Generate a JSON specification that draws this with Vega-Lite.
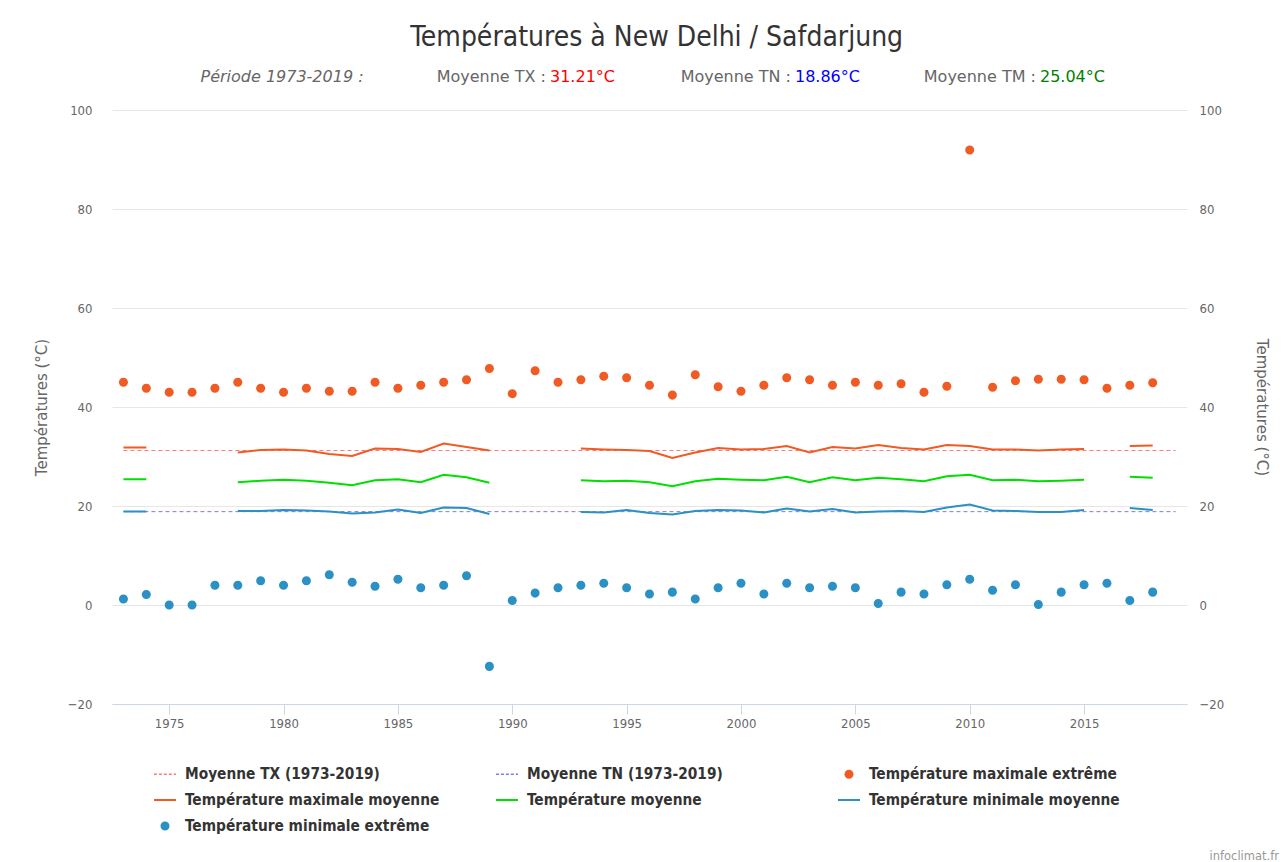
{
  "$schema": "https://vega.github.io/schema/vega-lite/v6.json",
  "background": "white",
  "padding": {"left": 34, "top": 24, "right": 5, "bottom": 1},
  "title": {"text": "Températures à New Delhi / Safdarjung", "fontSize": 28, "fontWeight": "normal", "color": "#333333", "font": "DejaVu Sans Condensed", "anchor": "middle", "offset": 15},
  "config": {
    "font": "DejaVu Sans Condensed",
    "view": {"stroke": null},
    "axis": {"labelColor": "#666666", "titleColor": "#666666", "labelFontSize": 13, "titleFont": "DejaVu Sans", "titleFontSize": 15, "titleFontWeight": "normal", "gridColor": "#e6e6e6", "domainColor": "#ccd6eb", "tickColor": "#ccd6eb"}
  },
  "datasets": {
    "stats": [
      {"g": "TX", "libelle": "Moyenne TX :", "valeur": "31.21°C"},
      {"g": "TN", "libelle": "Moyenne TN :", "valeur": "18.86°C"},
      {"g": "TM", "libelle": "Moyenne TM :", "valeur": "25.04°C"}
    ],
    "moyennes": [
      {"serie": "Moyenne TX (1973-2019)", "annee": 1973, "fin": 2019, "valeur": 31.21},
      {"serie": "Moyenne TN (1973-2019)", "annee": 1973, "fin": 2019, "valeur": 18.86}
    ],
    "annees": [
      {"annee": 1973, "Température maximale extrême": 45.0, "Température maximale moyenne": 31.8, "Température moyenne": 25.4, "Température minimale moyenne": 18.9, "Température minimale extrême": 1.2},
      {"annee": 1974, "Température maximale extrême": 43.8, "Température maximale moyenne": 31.8, "Température moyenne": 25.4, "Température minimale moyenne": 18.9, "Température minimale extrême": 2.1},
      {"annee": 1975, "Température maximale extrême": 43.0, "Température maximale moyenne": null, "Température moyenne": null, "Température minimale moyenne": null, "Température minimale extrême": 0.0},
      {"annee": 1976, "Température maximale extrême": 43.0, "Température maximale moyenne": null, "Température moyenne": null, "Température minimale moyenne": null, "Température minimale extrême": 0.0},
      {"annee": 1977, "Température maximale extrême": 43.8, "Température maximale moyenne": null, "Température moyenne": null, "Température minimale moyenne": null, "Température minimale extrême": 4.0},
      {"annee": 1978, "Température maximale extrême": 45.0, "Température maximale moyenne": 30.8, "Température moyenne": 24.8, "Température minimale moyenne": 19.0, "Température minimale extrême": 4.0},
      {"annee": 1979, "Température maximale extrême": 43.8, "Température maximale moyenne": 31.3, "Température moyenne": 25.1, "Température minimale moyenne": 19.0, "Température minimale extrême": 4.9},
      {"annee": 1980, "Température maximale extrême": 43.0, "Température maximale moyenne": 31.4, "Température moyenne": 25.3, "Température minimale moyenne": 19.2, "Température minimale extrême": 4.0},
      {"annee": 1981, "Température maximale extrême": 43.8, "Température maximale moyenne": 31.2, "Température moyenne": 25.1, "Température minimale moyenne": 19.1, "Température minimale extrême": 4.9},
      {"annee": 1982, "Température maximale extrême": 43.2, "Température maximale moyenne": 30.5, "Température moyenne": 24.7, "Température minimale moyenne": 18.9, "Température minimale extrême": 6.1},
      {"annee": 1983, "Température maximale extrême": 43.2, "Température maximale moyenne": 30.1, "Température moyenne": 24.2, "Température minimale moyenne": 18.5, "Température minimale extrême": 4.6},
      {"annee": 1984, "Température maximale extrême": 45.0, "Température maximale moyenne": 31.6, "Température moyenne": 25.2, "Température minimale moyenne": 18.7, "Température minimale extrême": 3.8},
      {"annee": 1985, "Température maximale extrême": 43.8, "Température maximale moyenne": 31.5, "Température moyenne": 25.4, "Température minimale moyenne": 19.3, "Température minimale extrême": 5.2},
      {"annee": 1986, "Température maximale extrême": 44.4, "Température maximale moyenne": 30.9, "Température moyenne": 24.8, "Température minimale moyenne": 18.6, "Température minimale extrême": 3.5},
      {"annee": 1987, "Température maximale extrême": 45.0, "Température maximale moyenne": 32.6, "Température moyenne": 26.3, "Température minimale moyenne": 19.7, "Température minimale extrême": 4.0},
      {"annee": 1988, "Température maximale extrême": 45.5, "Température maximale moyenne": 31.9, "Température moyenne": 25.8, "Température minimale moyenne": 19.6, "Température minimale extrême": 5.9},
      {"annee": 1989, "Température maximale extrême": 47.8, "Température maximale moyenne": 31.2, "Température moyenne": 24.7, "Température minimale moyenne": 18.4, "Température minimale extrême": -12.4},
      {"annee": 1990, "Température maximale extrême": 42.7, "Température maximale moyenne": null, "Température moyenne": null, "Température minimale moyenne": null, "Température minimale extrême": 0.9},
      {"annee": 1991, "Température maximale extrême": 47.3, "Température maximale moyenne": null, "Température moyenne": null, "Température minimale moyenne": null, "Température minimale extrême": 2.4},
      {"annee": 1992, "Température maximale extrême": 45.0, "Température maximale moyenne": null, "Température moyenne": null, "Température minimale moyenne": null, "Température minimale extrême": 3.5},
      {"annee": 1993, "Température maximale extrême": 45.5, "Température maximale moyenne": 31.6, "Température moyenne": 25.2, "Température minimale moyenne": 18.8, "Température minimale extrême": 4.0},
      {"annee": 1994, "Température maximale extrême": 46.2, "Température maximale moyenne": 31.4, "Température moyenne": 25.0, "Température minimale moyenne": 18.7, "Température minimale extrême": 4.4},
      {"annee": 1995, "Température maximale extrême": 45.9, "Température maximale moyenne": 31.3, "Température moyenne": 25.1, "Température minimale moyenne": 19.2, "Température minimale extrême": 3.5},
      {"annee": 1996, "Température maximale extrême": 44.4, "Température maximale moyenne": 31.1, "Température moyenne": 24.8, "Température minimale moyenne": 18.6, "Température minimale extrême": 2.2},
      {"annee": 1997, "Température maximale extrême": 42.4, "Température maximale moyenne": 29.7, "Température moyenne": 24.0, "Température minimale moyenne": 18.3, "Température minimale extrême": 2.6},
      {"annee": 1998, "Température maximale extrême": 46.5, "Température maximale moyenne": 30.8, "Température moyenne": 25.0, "Température minimale moyenne": 19.0, "Température minimale extrême": 1.2},
      {"annee": 1999, "Température maximale extrême": 44.1, "Température maximale moyenne": 31.7, "Température moyenne": 25.5, "Température minimale moyenne": 19.2, "Température minimale extrême": 3.5},
      {"annee": 2000, "Température maximale extrême": 43.2, "Température maximale moyenne": 31.4, "Température moyenne": 25.3, "Température minimale moyenne": 19.1, "Température minimale extrême": 4.4},
      {"annee": 2001, "Température maximale extrême": 44.4, "Température maximale moyenne": 31.5, "Température moyenne": 25.2, "Température minimale moyenne": 18.7, "Température minimale extrême": 2.2},
      {"annee": 2002, "Température maximale extrême": 45.9, "Température maximale moyenne": 32.1, "Température moyenne": 25.9, "Température minimale moyenne": 19.5, "Température minimale extrême": 4.4},
      {"annee": 2003, "Température maximale extrême": 45.5, "Température maximale moyenne": 30.8, "Température moyenne": 24.8, "Température minimale moyenne": 18.9, "Température minimale extrême": 3.5},
      {"annee": 2004, "Température maximale extrême": 44.4, "Température maximale moyenne": 31.9, "Température moyenne": 25.8, "Température minimale moyenne": 19.4, "Température minimale extrême": 3.8},
      {"annee": 2005, "Température maximale extrême": 45.0, "Température maximale moyenne": 31.6, "Température moyenne": 25.2, "Température minimale moyenne": 18.7, "Température minimale extrême": 3.5},
      {"annee": 2006, "Température maximale extrême": 44.4, "Température maximale moyenne": 32.3, "Température moyenne": 25.7, "Température minimale moyenne": 18.9, "Température minimale extrême": 0.3},
      {"annee": 2007, "Température maximale extrême": 44.7, "Température maximale moyenne": 31.7, "Température moyenne": 25.4, "Température minimale moyenne": 19.0, "Température minimale extrême": 2.6},
      {"annee": 2008, "Température maximale extrême": 43.0, "Température maximale moyenne": 31.4, "Température moyenne": 25.0, "Température minimale moyenne": 18.8, "Température minimale extrême": 2.2},
      {"annee": 2009, "Température maximale extrême": 44.2, "Température maximale moyenne": 32.3, "Température moyenne": 26.0, "Température minimale moyenne": 19.7, "Température minimale extrême": 4.1},
      {"annee": 2010, "Température maximale extrême": 91.9, "Température maximale moyenne": 32.1, "Température moyenne": 26.3, "Température minimale moyenne": 20.3, "Température minimale extrême": 5.2},
      {"annee": 2011, "Température maximale extrême": 44.0, "Température maximale moyenne": 31.4, "Température moyenne": 25.2, "Température minimale moyenne": 19.1, "Température minimale extrême": 3.0},
      {"annee": 2012, "Température maximale extrême": 45.3, "Température maximale moyenne": 31.4, "Température moyenne": 25.3, "Température minimale moyenne": 19.0, "Température minimale extrême": 4.1},
      {"annee": 2013, "Température maximale extrême": 45.6, "Température maximale moyenne": 31.2, "Température moyenne": 25.0, "Température minimale moyenne": 18.8, "Température minimale extrême": 0.1},
      {"annee": 2014, "Température maximale extrême": 45.6, "Température maximale moyenne": 31.4, "Température moyenne": 25.1, "Température minimale moyenne": 18.8, "Température minimale extrême": 2.6},
      {"annee": 2015, "Température maximale extrême": 45.5, "Température maximale moyenne": 31.5, "Température moyenne": 25.3, "Température minimale moyenne": 19.2, "Température minimale extrême": 4.1},
      {"annee": 2016, "Température maximale extrême": 43.8, "Température maximale moyenne": null, "Température moyenne": null, "Température minimale moyenne": null, "Température minimale extrême": 4.4},
      {"annee": 2017, "Température maximale extrême": 44.4, "Température maximale moyenne": 32.1, "Température moyenne": 25.9, "Température minimale moyenne": 19.6, "Température minimale extrême": 0.9},
      {"annee": 2018, "Température maximale extrême": 44.9, "Température maximale moyenne": 32.2, "Température moyenne": 25.7, "Température minimale moyenne": 19.2, "Température minimale extrême": 2.6}
    ]
  },
  "spacing": 17,
  "resolve": {"scale": {"x": "independent", "y": "independent"}},
  "vconcat": [
    {
      "width": 1075,
      "height": 20,
      "data": {"name": "stats"},
      "layer": [
        {
          "data": {"values": [{"g": "P", "txt": "Période 1973-2019 :"}]},
          "mark": {"type": "text", "font": "DejaVu Sans", "fontStyle": "italic", "fill": "#666666", "fontSize": 16, "align": "center"},
          "encoding": {
            "x": {"field": "g", "type": "nominal", "scale": {"type": "point", "domain": ["P", "TX", "TN", "TM"], "padding": 0.694}, "axis": null},
            "text": {"field": "txt"}
          }
        },
        {
          "mark": {"type": "text", "font": "DejaVu Sans", "fill": "#666666", "fontSize": 16, "align": "right", "dx": 19},
          "encoding": {
            "x": {"field": "g", "type": "nominal", "scale": {"type": "point", "domain": ["P", "TX", "TN", "TM"], "padding": 0.694}, "axis": null},
            "text": {"field": "libelle"}
          }
        },
        {
          "mark": {"type": "text", "font": "DejaVu Sans", "fontSize": 16, "align": "left", "dx": 23},
          "encoding": {
            "x": {"field": "g", "type": "nominal", "scale": {"type": "point", "domain": ["P", "TX", "TN", "TM"], "padding": 0.694}, "axis": null},
            "text": {"field": "valeur"},
            "fill": {"field": "g", "type": "nominal", "scale": {"domain": ["TX", "TN", "TM"], "range": ["#ff0000", "#0000ff", "#008000"]}, "legend": null}
          }
        }
      ]
    },
    {
      "width": 1075,
      "height": 594,
      "resolve": {"axis": {"y": "independent"}},
      "encoding": {
        "x": {"field": "annee", "type": "quantitative", "scale": {"domain": [1972.5, 2019.5], "nice": false, "zero": false},
              "axis": {"values": [1975, 1980, 1985, 1990, 1995, 2000, 2005, 2010, 2015], "format": "d", "title": null, "grid": false, "tickSize": 10, "labelPadding": 3}}
      },
      "layer": [
        {
          "data": {"name": "annees"},
          "transform": [{"fold": ["Température maximale extrême"], "as": ["serie", "valeur"]}],
          "mark": {"type": "point", "filled": true, "size": 484, "opacity": 1, "strokeWidth": 0},
          "encoding": {
            "y": {"field": "valeur", "type": "quantitative", "scale": {"domain": [-20, 100], "nice": false, "zero": false},
                  "axis": {"orient": "left", "values": [-20, 0, 20, 40, 60, 80, 100], "title": "Températures (°C)", "grid": true, "ticks": false, "domain": false, "labelPadding": 20, "titlePadding": 18}},
            "color": {
              "field": "serie", "type": "nominal",
              "scale": {
                "domain": ["Moyenne TX (1973-2019)", "Moyenne TN (1973-2019)", "Température maximale extrême", "Température maximale moyenne", "Température moyenne", "Température minimale moyenne", "Température minimale extrême"],
                "range": ["#ff7a7a", "#7a7aff", "#f05a23", "#f05a23", "#00e000", "#2b90c3", "#2b90c3"]
              },
              "legend": {
                "orient": "none", "legendX": 42, "legendY": 696,
                "direction": "horizontal", "columns": 3, "title": null, "gridAlign": "all",
                "columnPadding": 56, "rowPadding": 6, "symbolSize": 484, "symbolStrokeWidth": 0, "symbolOpacity": 1,
                "labelFontSize": 15.3, "labelFontWeight": "bold", "labelColor": "#333333", "labelOffset": 9, "labelLimit": 400
              }
            },
            "shape": {
              "field": "serie", "type": "nominal",
              "scale": {
                "domain": ["Moyenne TX (1973-2019)", "Moyenne TN (1973-2019)", "Température maximale extrême", "Température maximale moyenne", "Température moyenne", "Température minimale moyenne", "Température minimale extrême"],
                "range": [
                  "M-1,-0.07H-0.73V0.07H-1Z M-0.55,-0.07H-0.28V0.07H-0.55Z M-0.1,-0.07H0.17V0.07H-0.1Z M0.35,-0.07H0.62V0.07H0.35Z M0.8,-0.07H1V0.07H0.8Z",
                  "M-1,-0.07H-0.73V0.07H-1Z M-0.55,-0.07H-0.28V0.07H-0.55Z M-0.1,-0.07H0.17V0.07H-0.1Z M0.35,-0.07H0.62V0.07H0.35Z M0.8,-0.07H1V0.07H0.8Z",
                  "M-0.41,0A0.41,0.41,0,1,1,0.41,0A0.41,0.41,0,1,1,-0.41,0Z",
                  "M-1,-0.09H1V0.09H-1Z",
                  "M-1,-0.09H1V0.09H-1Z",
                  "M-1,-0.09H1V0.09H-1Z",
                  "M-0.41,0A0.41,0.41,0,1,1,0.41,0A0.41,0.41,0,1,1,-0.41,0Z"
                ]
              }
            }
          }
        },
        {
          "data": {"name": "annees"},
          "transform": [{"fold": ["Température minimale extrême"], "as": ["serie", "valeur"]}],
          "mark": {"type": "point", "filled": true, "size": 484, "opacity": 1, "strokeWidth": 0},
          "encoding": {
            "y": {"field": "valeur", "type": "quantitative", "axis": null},
            "color": {"field": "serie", "type": "nominal"},
            "shape": {"field": "serie", "type": "nominal"}
          }
        },
        {
          "data": {"name": "moyennes"},
          "mark": {"type": "rule", "strokeDash": [4, 3], "strokeWidth": 1},
          "encoding": {
            "x2": {"field": "fin"},
            "y": {"field": "valeur", "type": "quantitative", "axis": null},
            "color": {"field": "serie", "type": "nominal"}
          }
        },
        {
          "data": {"name": "annees"},
          "transform": [{"fold": ["Température maximale moyenne"], "as": ["serie", "valeur"]}],
          "mark": {"type": "line", "strokeWidth": 2, "invalid": "break-paths-show-domains"},
          "encoding": {
            "y": {"field": "valeur", "type": "quantitative",
                  "axis": {"orient": "right", "values": [-20, 0, 20, 40, 60, 80, 100], "title": "Températures (°C)", "grid": false, "ticks": false, "domain": false, "labelPadding": 12, "titlePadding": 30}},
            "color": {"field": "serie", "type": "nominal"}
          }
        },
        {
          "data": {"name": "annees"},
          "transform": [{"fold": ["Température moyenne"], "as": ["serie", "valeur"]}],
          "mark": {"type": "line", "strokeWidth": 2, "invalid": "break-paths-show-domains"},
          "encoding": {
            "y": {"field": "valeur", "type": "quantitative", "axis": null},
            "color": {"field": "serie", "type": "nominal"}
          }
        },
        {
          "data": {"name": "annees"},
          "transform": [{"fold": ["Température minimale moyenne"], "as": ["serie", "valeur"]}],
          "mark": {"type": "line", "strokeWidth": 2, "invalid": "break-paths-show-domains"},
          "encoding": {
            "y": {"field": "valeur", "type": "quantitative", "axis": null},
            "color": {"field": "serie", "type": "nominal"}
          }
        }
      ]
    },
    {
      "width": 1075,
      "height": 115,
      "data": {"values": [{"credit": "infoclimat.fr"}]},
      "mark": {"type": "text", "font": "DejaVu Sans", "fontSize": 11.5, "fill": "#999999", "align": "right", "baseline": "bottom", "dx": 92},
      "encoding": {
        "x": {"datum": 1, "type": "quantitative", "scale": {"domain": [0, 1]}, "axis": null},
        "y": {"datum": 0, "type": "quantitative", "scale": {"domain": [0, 1]}, "axis": null},
        "text": {"field": "credit"}
      }
    }
  ]
}
